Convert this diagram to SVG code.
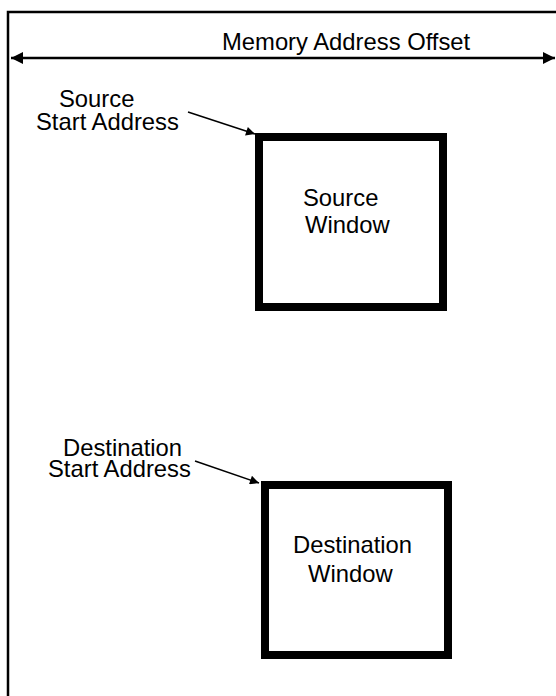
<svg xmlns="http://www.w3.org/2000/svg" width="556" height="696" viewBox="0 0 556 696">
<defs>
<style>
text{font-family:"Liberation Sans",Arial,sans-serif;font-size:23.8px;fill:#000}
.frame{fill:none;stroke:#000;stroke-width:2.5}
.win{fill:#fff;stroke:#000;stroke-width:8}
.conn{stroke:#000;stroke-width:1.5;fill:none}
.dim{stroke:#000;stroke-width:2.5;fill:none}
</style>
<marker id="ah" viewBox="0 0 10 10" refX="10" refY="5" markerWidth="12" markerHeight="9" markerUnits="userSpaceOnUse" orient="auto-start-reverse">
<path d="M0,0 L10,5 L0,10 z" fill="#000"/>
</marker>
<marker id="ah2" viewBox="0 0 10 10" refX="10" refY="5" markerWidth="13" markerHeight="12" markerUnits="userSpaceOnUse" orient="auto-start-reverse">
<path d="M0,0 L10,5 L0,10 z" fill="#000"/>
</marker>
</defs>
<g id="frame">
<path class="frame" d="M8,696 V12 H556"/>
</g>
<g id="axis">
<line class="dim" x1="11" y1="58" x2="555" y2="58" marker-start="url(#ah2)" marker-end="url(#ah2)"/>
<text x="222" y="50">Memory Address Offset</text>
</g>
<g id="source-window">
<rect class="win" x="259" y="137" width="184" height="170"/>
<text x="303" y="206">Source</text>
<text x="305" y="233">Window</text>
</g>
<g id="destination-window">
<rect class="win" x="265" y="485" width="183" height="170"/>
<text x="293" y="553">Destination</text>
<text x="308" y="582">Window</text>
</g>
<g id="source-label">
<text x="59" y="107">Source</text>
<text x="36" y="130">Start Address</text>
</g>
<g id="destination-label">
<text x="63" y="456">Destination</text>
<text x="48" y="477">Start Address</text>
</g>
<g id="connectors">
<line class="conn" x1="188" y1="112" x2="255" y2="134" marker-end="url(#ah)"/>
<line class="conn" x1="195" y1="461" x2="259" y2="483" marker-end="url(#ah)"/>
</g>
</svg>
